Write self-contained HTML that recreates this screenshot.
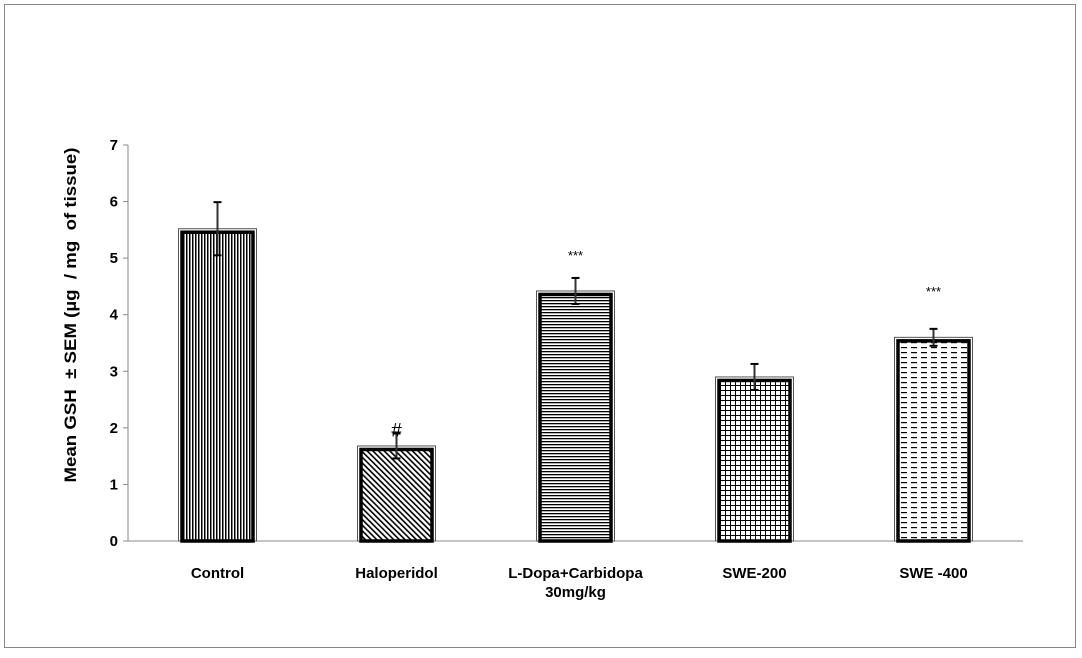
<!DOCTYPE html>
<html><head><meta charset="utf-8"><style>
body{margin:0;background:#fff;font-family:"Liberation Sans",Arial,sans-serif}
</style></head><body>
<svg width="1082" height="653" xmlns="http://www.w3.org/2000/svg">
<defs>
<pattern id="p0" width="3" height="3" patternUnits="userSpaceOnUse"><rect width="3" height="3" fill="#fff"/><rect width="1.5" height="3" fill="#000"/></pattern>
<pattern id="p1" width="4" height="4" patternUnits="userSpaceOnUse" patternTransform="rotate(-45)"><rect width="4" height="4" fill="#fff"/><rect width="1.6" height="4" fill="#000"/></pattern>
<pattern id="p2" width="3" height="3" patternUnits="userSpaceOnUse"><rect width="3" height="3" fill="#fff"/><rect width="3" height="1.3" fill="#000"/></pattern>
<pattern id="p3" width="5" height="5" patternUnits="userSpaceOnUse"><rect width="5" height="5" fill="#fff"/><rect width="1" height="5" fill="#000"/><rect width="5" height="1" fill="#000"/></pattern>
<pattern id="p4" width="10" height="5" patternUnits="userSpaceOnUse"><rect width="10" height="5" fill="#fff"/><rect x="1" y="2" width="6" height="1.2" fill="#000"/></pattern>
</defs>
<rect x="4.5" y="4.5" width="1071" height="643" fill="#fff" stroke="#888"/>
<g id="axes"></g>
<g id="bars"></g>
<text transform="translate(76,315) rotate(-90)" text-anchor="middle" font-size="17" font-weight="bold" textLength="335" lengthAdjust="spacingAndGlyphs">Mean GSH&#160; ± SEM (µg&#160; / mg&#160; of tissue)</text>
</svg>
<script>
const categories=["Control","Haloperidol","L-Dopa+Carbidopa","SWE-200","SWE -400"];
const values=[5.52,1.68,4.42,2.9,3.6];
const errors=[0.47,0.22,0.23,0.23,0.15];
const marks=["","#","***","","***"];
const yTicks=[0,1,2,3,4,5,6,7];
const markGap=[0,-3,18,0,33];
const NS="http://www.w3.org/2000/svg";
const x0=128,step=179,y0=541,ppu=56.57;
const y=v=>y0-v*ppu;
const xc=i=>x0+step*(i+0.5);
function el(t,a,p){const e=document.createElementNS(NS,t);for(const k in a)e.setAttribute(k,a[k]);p.appendChild(e);return e;}
const ax=document.getElementById('axes'),bg=document.getElementById('bars');
let l=el('line',{x1:x0,y1:y(7),x2:x0,y2:y0,stroke:'#888'},ax);


l=el('line',{x1:x0,y1:y0,x2:x0+step*5,y2:y0,stroke:'#888'},ax);


yTicks.forEach(t=>{
 el('line',{x1:x0-5,y1:y(t),x2:x0,y2:y(t),stroke:'#888'},ax);
 const tx=el('text',{x:x0-10,y:y(t)+5,'text-anchor':'end','font-size':15,'font-weight':'bold'},ax);
 tx.textContent=t;
 
 
});
categories.forEach((c,i)=>{
 const cx=xc(i),w=78,top=y(values[i]);
 const g=el('g',{},bg);
 
 
 el('rect',{x:cx-w/2,y:top,width:w,height:y0-top,fill:'#fff',stroke:'#555','stroke-width':1},g);
 el('rect',{x:cx-w/2+3.5,y:top+3.5,width:w-7,height:y0-top-3.5,fill:'url(#p'+i+')',stroke:'#000','stroke-width':3.5},g);
 const e=el('g',{},g);
 
 
 el('line',{x1:cx,y1:y(values[i]+errors[i]),x2:cx,y2:y(values[i]-errors[i]),stroke:'#333','stroke-width':2},e);
 el('line',{x1:cx-4,y1:y(values[i]+errors[i]),x2:cx+4,y2:y(values[i]+errors[i]),stroke:'#000','stroke-width':2},e);
 el('line',{x1:cx-4,y1:y(values[i]-errors[i]),x2:cx+4,y2:y(values[i]-errors[i]),stroke:'#000','stroke-width':2},e);
 if(marks[i]){
  const m=el('text',{x:cx,y:y(values[i]+errors[i])-markGap[i],'text-anchor':'middle','font-size':marks[i]=='#'?19:13},g);
  m.textContent=marks[i];
  
  
 }
 const t=el('text',{x:cx,y:578,'text-anchor':'middle','font-size':15,'font-weight':'bold'},ax);
 t.textContent=c;
 
 
 if(i==2){const t2=el('text',{x:cx,y:597,'text-anchor':'middle','font-size':15,'font-weight':'bold'},ax);t2.textContent='30mg/kg';
 
 }
});
</script>
</body></html>
